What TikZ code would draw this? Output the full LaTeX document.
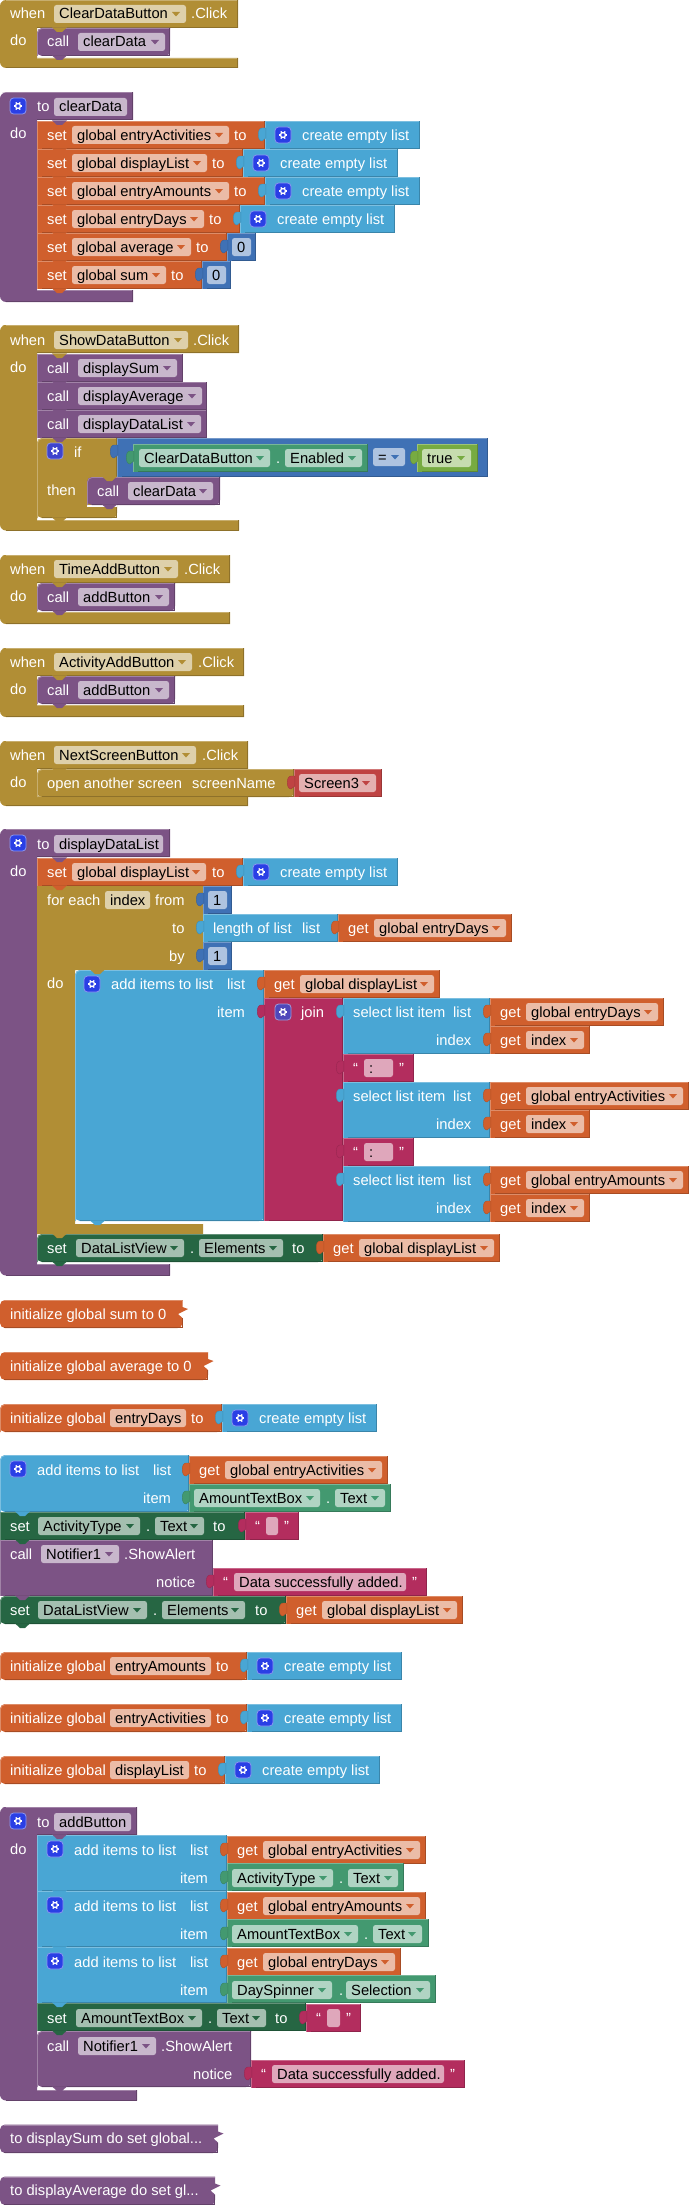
\documentclass[tikz,border=0pt]{standalone}
\usepackage{fontspec}
\setmainfont{Liberation Sans}
\definecolor{ctrl}{HTML}{B18E35}
\definecolor{proc}{HTML}{7C5385}
\definecolor{var}{HTML}{D05F2D}
\definecolor{lst}{HTML}{49A6D4}
\definecolor{math}{HTML}{3F71B5}
\definecolor{txt}{HTML}{B32D5E}
\definecolor{logic}{HTML}{77AB41}
\definecolor{setc}{HTML}{266643}
\definecolor{getc}{HTML}{439970}
\definecolor{scr}{HTML}{BF4343}
\definecolor{gearblue}{HTML}{2A3FE5}
\tikzset{
  lab/.style={anchor=base west,inner sep=0pt,text=white,font=\fontsize{14.7}{16}\selectfont,yshift=-5pt},
  blab/.style={lab,text=black},
  hilite/.style={#1!72!white,line width=.8pt},
  shade/.style={#1!80!black,line width=.8pt},
}
\newcounter{nodeno}
% white text, black text
\newcommand{\lab}[3]{\stepcounter{nodeno}\node[lab] (n\arabic{nodeno}) at (#1,#2) {#3};}
\newcommand{\blab}[3]{\stepcounter{nodeno}\node[blab] (n\arabic{nodeno}) at (#1,#2) {#3};}
% fields: colour, x0, x1, centre y, text
\newcommand{\fldn}[5]{\fill[#1!42!white,rounded corners=2.5pt] (#2,#4-9) rectangle (#3,#4+9);\blab{#2+5}{#4}{#5}}
\newcommand{\fld}[5]{\fldn{#1}{#2}{#3}{#4}{#5}\fill[#1] (#3-14,#4-2) -- (#3-6,#4-2) -- (#3-10,#4+2.5) -- cycle;}
% block: [radius], colour, x0, y0, x1, y1
\newcommand{\blk}[6][0pt]{
  \fill[#2] [rounded corners=#1] (#5,#4) -- (#3,#4) -- (#3,#6) -- (#5,#6) [sharp corners] -- cycle;
  \draw[hilite=#2] [rounded corners=#1] (#5,#4+.4) -- (#3+.4,#4+.4) -- (#3+.4,#6);
  \draw[shade=#2] (#3+5,#6-.4) -- (#5-.4,#6-.4) -- (#5-.4,#4);
}
% block with a do column: colour, y0, x1, head bottom, foot top, y1
\newcommand{\cblk}[6]{
  \fill[#1] (#3,#6) [rounded corners=6pt] -- (0,#6) -- (0,#2) -- (8,#2) [sharp corners] -- (#3,#2) -- (#3,#4) -- (37,#4) -- (37,#5) -- (#3,#5) -- cycle;
  \draw[hilite=#1] (#3,#2+.4) -- (6,#2+.4);
  \draw[hilite=#1] (37,#5+.4) -- (#3,#5+.4);
  \draw[shade=#1] (6,#6-.4) -- (#3-.4,#6-.4) -- (#3-.4,#5);
  \draw[shade=#1] (#3-.4,#2) -- (#3-.4,#4-.4) -- (37,#4-.4);
}
% notch under a statement, plug left of an output block
\newcommand{\nch}[3]{\fill[#1] (#2+15,#3-.6) -- (#2+20,#3+4) -- (#2+25,#3+4) -- (#2+30,#3-.6) -- cycle;}
\newcommand{\plug}[3]{\filldraw[#1,draw=#1!85!black,line width=.4pt] (#2+.8,#3-7) -- (#2-3,#3-7) .. controls (#2-8,#3-7) and (#2-8,#3+6) .. (#2-3,#3+6) -- (#2+.8,#3+3) -- cycle;}
\newcommand{\gear}[3][gearblue]{
  \filldraw[#1,draw=#1!55!white,rounded corners=3.5pt,line width=.8pt] (#2-8,#3-8) rectangle (#2+8,#3+8);
  \draw[white,line width=1.3pt] (#2,#3) circle (2.5pt);
  \foreach \aa in {0,60,...,300}
    \draw[white,line width=1.2pt] (#2,#3) ++(\aa:2.5pt) -- ++(\aa:1.7pt);
}
% value blocks: x0, centre y, ...
\newcommand{\listv}[2]{\blk{lst}{#1}{#2-14}{#1+155}{#2+14}\plug{lst}{#1}{#2}\gear{#1+18}{#2}\lab{#1+37}{#2}{create empty list}}
\newcommand{\numv}[3]{\blk{math}{#1}{#2-14}{#1+29}{#2+14}\plug{math}{#1}{#2}\fldn{math}{#1+5}{#1+24}{#2}{#3}}
\newcommand{\getv}[4]{\blk{var}{#1}{#2-14}{#3}{#2+14}\plug{var}{#1}{#2}\lab{#1+10}{#2}{get}\fld{var}{#1+36}{#3-6}{#2}{#4}}
\newcommand{\strv}[4]{\blk{txt}{#1}{#2-14}{#3}{#2+14}\plug{txt}{#1}{#2}\lab{#1+10}{#2}{“}\fldn{txt}{#1+21}{#3-21}{#2}{#4}\lab{#3-15}{#2}{”}}
\newcommand{\setv}[5]{\blk{var}{37}{#1-14}{#4}{#1+14}\lab{47}{#1}{set}\fld{var}{72}{#2}{#1}{#5}\lab{#3}{#1}{to}}
% block with a point on its right side: colour, y0, y1, x1, text
\newcommand{\initv}[5]{\fill[#1] [rounded corners=5pt] (#4,#2) -- (0,#2) -- (0,#3) -- (#4,#3) [sharp corners] -- (#4,#2+18) -- (#4-4.5,#2+14) -- (#4+5.5,#2+9) -- (#4,#2+7) -- cycle;
  \draw[hilite=#1] (4,#2+.4) -- (#4,#2+.4);\draw[shade=#1] (4,#3-.4) -- (#4-.4,#3-.4) -- (#4-.4,#2+18);\lab{10}{#2+14}{#5}}
\newcommand{\initl}[5]{\blk[5pt]{var}{0}{#1-14}{#2}{#1+14}\lab{10}{#1}{initialize global}\fldn{var}{110}{#3}{#1}{#5}\lab{#4}{#1}{to}\listv{#2}{#1}}

\begin{document}
\begin{tikzpicture}[x=1pt,y=-1pt]
\useasboundingbox (0,0) rectangle (689,2205);
% ClearDataButton
\cblk{ctrl}{0}{238}{28}{58}{68}
\lab{10}{14}{when}\fld{ctrl}{54}{186}{14}{ClearDataButton}\lab{191}{14}{.Click}\lab{10}{41}{do}
\blk[5pt]{proc}{37}{28}{170}{56}\lab{47}{42}{call}\fld{proc}{78}{165}{42}{clearData}
\nch{ctrl}{37}{28}\nch{proc}{37}{56}

% to clearData
\cblk{proc}{92.5}{133}{120}{290}{302}
\gear{18}{106}\lab{37}{107}{to}\fldn{proc}{54}{127}{107}{clearData}\lab{10}{134}{do}
\setv{135}{229}{234}{265}{global entryActivities}\listv{265}{135}
\setv{163}{207}{212}{243}{global displayList}\listv{243}{163}
\setv{191}{229}{234}{265}{global entryAmounts}\listv{265}{191}
\setv{219}{204}{209}{240}{global entryDays}\listv{240}{219}
\setv{247}{191}{196}{227}{global average}\numv{227}{247}{0}
\setv{275}{166}{171}{202}{global sum}\numv{202}{275}{0}
\nch{proc}{37}{121}
\foreach \yy in {149,177,205,233,261,289} {\nch{var}{37}{\yy}}

% ShowDataButton
\cblk{ctrl}{325}{239}{353}{520}{530.5}
\lab{10}{340}{when}\fld{ctrl}{54}{188}{340}{ShowDataButton}\lab{193}{340}{.Click}\lab{10}{367}{do}
\blk{proc}{37}{354}{183}{382}\lab{47}{368}{call}\fld{proc}{78}{177}{368}{displaySum}
\blk{proc}{37}{382}{207}{410}\lab{47}{396}{call}\fld{proc}{78}{202}{396}{displayAverage}
\blk{proc}{37}{410}{207}{438}\lab{47}{424}{call}\fld{proc}{78}{201}{424}{displayDataList}
\blk[5pt]{ctrl}{37}{438}{117}{518}
\gear[proc!25!gearblue]{55}{451}\lab{74}{452}{if}\lab{47}{490}{then}
\blk{math}{117}{438}{488}{477}\plug{math}{117}{452}
\blk{getc}{133}{444}{368}{472}\plug{getc}{133}{458}
\fld{getc}{139}{270}{458}{ClearDataButton}\lab{276}{458}{.}\fld{getc}{285}{362}{458}{Enabled}
\fld{math}{373}{405}{457}{=}
\blk{logic}{417}{444}{478}{472}\plug{logic}{417}{458}\fld{logic}{422}{471}{458}{true}
\fill[white] (87,505) rectangle (117,507);
\blk[5pt]{proc}{87}{477}{220}{505}\lab{97}{491}{call}\fld{proc}{128}{213}{491}{clearData}
\nch{ctrl}{37}{354}\nch{proc}{87}{505}\nch{ctrl}{87}{477}\nch{ctrl}{37}{518}
\foreach \yy in {382,410,438} {\nch{proc}{37}{\yy}}

% TimeAddButton
\cblk{ctrl}{555}{230}{583}{612}{624}
\lab{10}{569}{when}\fld{ctrl}{54}{178}{569}{TimeAddButton}\lab{184}{569}{.Click}\lab{10}{596}{do}
\blk[5pt]{proc}{37}{583}{175}{611}\lab{47}{597}{call}\fld{proc}{78}{169}{597}{addButton}
\nch{ctrl}{37}{583}\nch{proc}{37}{611}

% ActivityAddButton
\cblk{ctrl}{648}{244}{676}{705}{717}
\lab{10}{662}{when}\fld{ctrl}{54}{192}{662}{ActivityAddButton}\lab{198}{662}{.Click}\lab{10}{689}{do}
\blk[5pt]{proc}{37}{676}{175}{704}\lab{47}{690}{call}\fld{proc}{78}{169}{690}{addButton}
\nch{ctrl}{37}{676}\nch{proc}{37}{704}

% NextScreenButton
\cblk{ctrl}{741}{248}{769}{796}{806}
\lab{10}{755}{when}\fld{ctrl}{54}{196}{755}{NextScreenButton}\lab{202}{755}{.Click}\lab{10}{782}{do}
\blk[5pt]{ctrl}{37}{769}{294}{797}\lab{47}{783}{open another screen}\lab{192}{783}{screenName}
\blk{scr}{294}{769}{382}{797}\plug{scr}{294}{783}\fld{scr}{299}{376}{783}{Screen3}
\nch{ctrl}{37}{769}

% to displayDataList
\cblk{proc}{829}{170}{857}{1264}{1275.5}
\gear{18}{843}\lab{37}{844}{to}\fldn{proc}{54}{163}{844}{displayDataList}\lab{10}{871}{do}
\setv{872}{206}{212}{243}{global displayList}\listv{243}{872}
\fill[ctrl] (37,886) -- (203,886) -- (203,970) -- (75,970) -- (75,1224) -- (203,1224) -- (203,1234) -- (37,1234) -- cycle;
\lab{47}{900}{for each}\fldn{ctrl}{105}{150}{900}{index}\lab{155}{900}{from}
\lab{172}{928}{to}\lab{169}{956}{by}\lab{47}{983}{do}
\numv{203}{900}{1}
\blk{lst}{203}{914}{338}{942}\plug{lst}{203}{928}\lab{213}{928}{length of list}\lab{302}{928}{list}
\getv{338}{928}{512}{global entryDays}
\numv{203}{956}{1}
\blk[5pt]{lst}{75}{970}{264}{1221}
\gear{92}{984}\lab{111}{984}{add items to list}\lab{227}{984}{list}\lab{217}{1012}{item}
\getv{264}{984}{440}{global displayList}
\blk{txt}{264}{998}{343}{1221}\plug{txt}{264}{1012}
\gear[proc!45!gearblue]{283}{1012}\lab{301}{1012}{join}
\blk{lst}{343}{998}{490}{1054}\plug{lst}{343}{1012}\lab{353}{1012}{select list item}\lab{453}{1012}{list}\lab{436}{1040}{index}
\getv{490}{1012}{664}{global entryDays}\getv{490}{1040}{590}{index}
\strv{343}{1068}{414}{:}
\blk{lst}{343}{1082}{490}{1138}\plug{lst}{343}{1096}\lab{353}{1096}{select list item}\lab{453}{1096}{list}\lab{436}{1124}{index}
\getv{490}{1096}{689}{global entryActivities}\getv{490}{1124}{590}{index}
\strv{343}{1152}{414}{:}
\blk{lst}{343}{1166}{490}{1222}\plug{lst}{343}{1180}\lab{353}{1180}{select list item}\lab{453}{1180}{list}\lab{436}{1208}{index}
\getv{490}{1180}{689}{global entryAmounts}\getv{490}{1208}{590}{index}
\blk[5pt]{setc}{37}{1234}{323}{1262}
\lab{47}{1248}{set}\fld{setc}{76}{184}{1248}{DataListView}\lab{190}{1248}{.}\fld{setc}{199}{283}{1248}{Elements}\lab{292}{1248}{to}
\getv{323}{1248}{500}{global displayList}
\nch{proc}{37}{858}\nch{var}{37}{886}\nch{ctrl}{75}{970}\nch{lst}{75}{1221}\nch{ctrl}{37}{1234}\nch{setc}{37}{1262}

% initialize
\initv{var}{1300}{1328}{182.5}{initialize global sum to 0}
\initv{var}{1352}{1380}{208}{initialize global average to 0}
\initl{1418}{222}{186}{191}{entryDays}

% add items, loose
\blk[5pt]{lst}{0}{1455}{189}{1512}
\gear{18}{1469}\lab{37}{1470}{add items to list}\lab{153}{1470}{list}\lab{143}{1498}{item}
\getv{189}{1470}{388}{global entryActivities}
\blk{getc}{189}{1484}{391}{1512}\plug{getc}{189}{1498}\fld{getc}{194}{320}{1498}{AmountTextBox}\lab{326}{1498}{.}\fld{getc}{335}{385}{1498}{Text}
\blk{setc}{0}{1512}{245}{1540}\lab{10}{1526}{set}\fld{setc}{38}{140}{1526}{ActivityType}\lab{146}{1526}{.}\fld{setc}{155}{204}{1526}{Text}\lab{213}{1526}{to}
\strv{245}{1526}{299}{}
\blk{proc}{0}{1540}{213}{1596}\lab{10}{1554}{call}\fld{proc}{41}{119}{1554}{Notifier1}\lab{124}{1554}{.ShowAlert}\lab{156}{1582}{notice}
\strv{213}{1582}{427}{Data successfully added.}
\blk[5pt]{setc}{0}{1596}{286}{1624}\lab{10}{1610}{set}\fld{setc}{38}{147}{1610}{DataListView}\lab{153}{1610}{.}\fld{setc}{162}{245}{1610}{Elements}\lab{255}{1610}{to}
\getv{286}{1610}{463}{global displayList}
\nch{lst}{0}{1512}\nch{setc}{0}{1540}\nch{proc}{0}{1596}\nch{setc}{0}{1624}

\initl{1666}{247}{211}{216}{entryAmounts}
\initl{1718}{247}{211}{216}{entryActivities}
\initl{1770}{225}{189}{194}{displayList}

% to addButton
\cblk{proc}{1807}{137}{1835}{2090}{2100.5}
\gear{18}{1821}\lab{37}{1822}{to}\fldn{proc}{54}{131}{1822}{addButton}\lab{10}{1849}{do}
\blk{lst}{37}{1835}{227}{1891}\gear{55}{1849}\lab{74}{1850}{add items to list}\lab{190}{1850}{list}\lab{180}{1878}{item}
\getv{227}{1850}{426}{global entryActivities}
\blk{getc}{227}{1863}{404}{1891}\plug{getc}{227}{1878}\fld{getc}{232}{333}{1878}{ActivityType}\lab{339}{1878}{.}\fld{getc}{348}{398}{1878}{Text}
\blk{lst}{37}{1891}{227}{1947}\gear{55}{1905}\lab{74}{1906}{add items to list}\lab{190}{1906}{list}\lab{180}{1934}{item}
\getv{227}{1906}{426}{global entryAmounts}
\blk{getc}{227}{1919}{429}{1947}\plug{getc}{227}{1934}\fld{getc}{232}{358}{1934}{AmountTextBox}\lab{364}{1934}{.}\fld{getc}{373}{422}{1934}{Text}
\blk{lst}{37}{1947}{227}{2003}\gear{55}{1961}\lab{74}{1962}{add items to list}\lab{190}{1962}{list}\lab{180}{1990}{item}
\getv{227}{1962}{401}{global entryDays}
\blk{getc}{227}{1975}{436}{2003}\plug{getc}{227}{1990}\fld{getc}{232}{332}{1990}{DaySpinner}\lab{339}{1990}{.}\fld{getc}{346}{430}{1990}{Selection}
\blk{setc}{37}{2003}{306}{2031}\lab{47}{2018}{set}\fld{setc}{76}{202}{2018}{AmountTextBox}\lab{208}{2018}{.}\fld{setc}{217}{266}{2018}{Text}\lab{275}{2018}{to}
\strv{306}{2018}{361}{}
\blk[5pt]{proc}{37}{2031}{251}{2087}\lab{47}{2046}{call}\fld{proc}{78}{156}{2046}{Notifier1}\lab{161}{2046}{.ShowAlert}\lab{193}{2074}{notice}
\strv{251}{2074}{465}{Data successfully added.}
\nch{proc}{37}{1835}\nch{lst}{37}{1891}\nch{lst}{37}{1947}\nch{lst}{37}{2003}\nch{setc}{37}{2031}\nch{proc}{37}{2087}

% collapsed
\initv{proc}{2124.5}{2153}{218}{to displaySum do set global...}
\initv{proc}{2176.5}{2205}{215}{to displayAverage do set gl...}
\end{tikzpicture}
\end{document}
